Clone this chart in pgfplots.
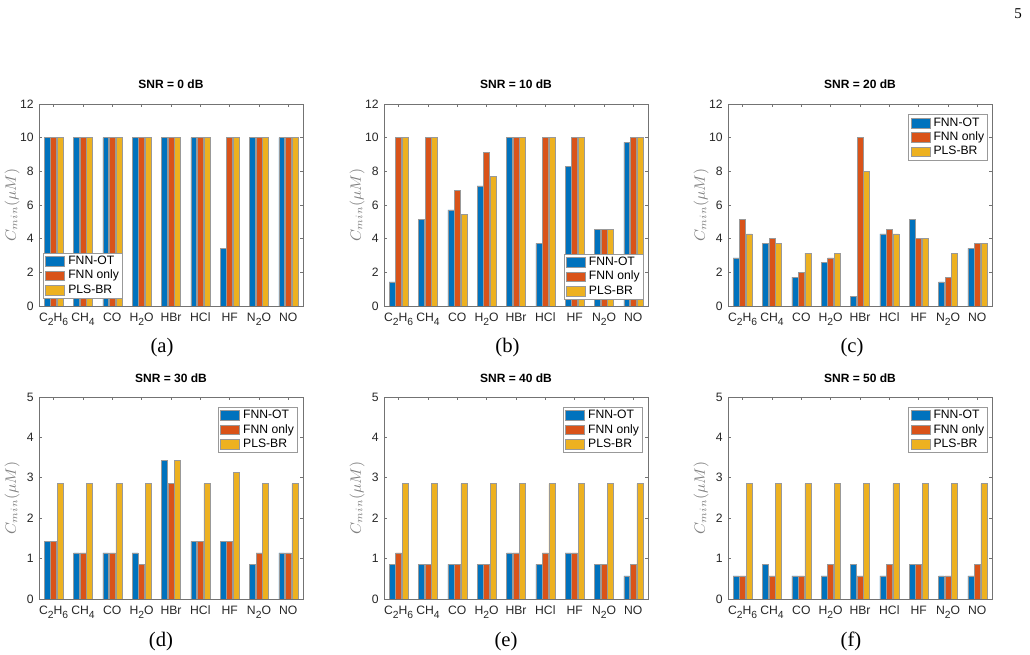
\documentclass[border=0pt]{standalone}
\usepackage{pgfplots}
\pgfplotsset{compat=1.18}
\usepackage{pgfplotstable}
\usepackage{fontspec}
\setmainfont{Liberation Serif}
\newfontfamily\helv{Liberation Sans}

\definecolor{cOT}{RGB}{0,114,189}
\definecolor{cOnly}{RGB}{217,83,25}
\definecolor{cPLS}{RGB}{237,177,32}

% lowered subscript for the gas formulas in the tick labels
\newcommand\sbs[1]{\raisebox{-2pt}{\fontsize{6.2}{6.2}\selectfont #1}}

% columns: gas index, FNN-OT, FNN only, PLS-BR  (C_min in micro-molar)
\pgfplotstableread{
x ot only pls
1 10    10    10
2 10    10    10
3 10    10    10
4 10    10    10
5 10    10    10
6 10    10    10
7 3.429 10    10
8 10    10    10
9 10    10    10
}\snrA
\pgfplotstableread{
x ot only pls
1 1.429 10    10
2 5.143 10    10
3 5.714 6.857 5.429
4 7.143 9.143 7.714
5 10    10    10
6 3.714 10    10
7 8.286 10    10
8 4.571 4.571 4.571
9 9.714 10    10
}\snrB
\pgfplotstableread{
x ot only pls
1 2.857 5.143 4.286
2 3.714 4.000 3.714
3 1.714 2.000 3.143
4 2.571 2.857 3.143
5 0.571 10    8.000
6 4.286 4.571 4.286
7 5.143 4.000 4.000
8 1.429 1.714 3.143
9 3.429 3.714 3.714
}\snrC
\pgfplotstableread{
x ot only pls
1 1.429 1.429 2.857
2 1.143 1.143 2.857
3 1.143 1.143 2.857
4 1.143 0.857 2.857
5 3.429 2.857 3.429
6 1.429 1.429 2.857
7 1.429 1.429 3.143
8 0.857 1.143 2.857
9 1.143 1.143 2.857
}\snrD
\pgfplotstableread{
x ot only pls
1 0.857 1.143 2.857
2 0.857 0.857 2.857
3 0.857 0.857 2.857
4 0.857 0.857 2.857
5 1.143 1.143 2.857
6 0.857 1.143 2.857
7 1.143 1.143 2.857
8 0.857 0.857 2.857
9 0.571 0.857 2.857
}\snrE
\pgfplotstableread{
x ot only pls
1 0.571 0.571 2.857
2 0.857 0.571 2.857
3 0.571 0.571 2.857
4 0.571 0.857 2.857
5 0.857 0.571 2.857
6 0.571 0.857 2.857
7 0.857 0.857 2.857
8 0.571 0.571 2.857
9 0.571 0.857 2.857
}\snrF

\pgfplotsset{
  gasbar/.style={ybar, bar width=0.2, draw=black!40, line width=0.3pt},
  fnnot/.style={gasbar, bar shift=-0.2222, fill=cOT},
  fnnonly/.style={gasbar, bar shift=0, fill=cOnly},
  plsbr/.style={gasbar, bar shift=0.2222, fill=cPLS},
  panel/.style={
    scale only axis, width=158.4pt, height=121.2pt,
    xmin=0.5, xmax=9.5, ymin=0,
    xtick={1,...,9},
    xticklabels={C\sbs{2}H\sbs{6}, CH\sbs{4}, CO, H\sbs{2}O, HBr, HCl, HF, N\sbs{2}O, NO},
    tick align=inside, tick pos=both, major tick length=1.6pt,
    axis line style={black!55, line width=0.5pt},
    tick style={black!55, line width=0.5pt},
    /pgf/number format/assume math mode=true,
    tick label style={font=\helv\fontsize{7.3}{8}\selectfont, text=black!85},
    yticklabel style={anchor=east, inner sep=0pt, xshift=-3pt},
    xticklabel style={anchor=base, inner sep=0pt, yshift=-9.6pt},
    title style={font=\helv\bfseries\fontsize{7.2}{8}\selectfont, at={(axis description cs:0.5,1)}, anchor=base, yshift=3pt, inner sep=0pt},
    every axis y label/.style={at={(axis description cs:-0.102,0.5)}, rotate=90, anchor=center, font=\fontsize{8.8}{10}\selectfont, text=black!50},
    ylabel={$C_{min}(\mu M)$},
    legend cell align=left,
    legend image code/.code={\draw[##1] (0pt,-2.9pt) rectangle (11.4pt,2.9pt);},
    legend style={draw=black!40, fill=white, line width=0.4pt, font=\helv\fontsize{7.3}{8}\selectfont, inner xsep=1.2pt, inner ysep=0.8pt, row sep=0pt, column sep=1.2pt, nodes={inner sep=0.9pt, text height=5.3pt, text depth=1.5pt}},
  },
  toprow/.style={panel, ymax=12, ytick={0,2,...,12}},
  botrow/.style={panel, ymax=5, ytick={0,1,...,5}},
}

\begin{document}
\begin{tikzpicture}
\path[use as bounding box] (0pt,0pt) rectangle (618pt,393pt);

% (a)
\begin{axis}[toprow, at={(23.4pt,209.4pt)}, anchor=south west, title={SNR = 0 dB},
  legend style={at={(axis description cs:0.015,0.035)}, anchor=south west}]
\addplot[fnnot] table[x=x,y=ot]{\snrA};
\addplot[fnnonly] table[x=x,y=only]{\snrA};
\addplot[plsbr] table[x=x,y=pls]{\snrA};
\legend{FNN-OT, FNN only, PLS-BR}
\end{axis}

% (b)
\begin{axis}[toprow, at={(230.4pt,209.4pt)}, anchor=south west, title={SNR = 10 dB},
  legend style={at={(axis description cs:0.983,0.03)}, anchor=south east}]
\addplot[fnnot] table[x=x,y=ot]{\snrB};
\addplot[fnnonly] table[x=x,y=only]{\snrB};
\addplot[plsbr] table[x=x,y=pls]{\snrB};
\legend{FNN-OT, FNN only, PLS-BR}
\end{axis}

% (c)
\begin{axis}[toprow, at={(436.8pt,209.4pt)}, anchor=south west, title={SNR = 20 dB},
  legend style={at={(axis description cs:0.985,0.95)}, anchor=north east}]
\addplot[fnnot] table[x=x,y=ot]{\snrC};
\addplot[fnnonly] table[x=x,y=only]{\snrC};
\addplot[plsbr] table[x=x,y=pls]{\snrC};
\legend{FNN-OT, FNN only, PLS-BR}
\end{axis}

% (d)
\begin{axis}[botrow, at={(23.4pt,33.6pt)}, anchor=south west, title={SNR = 30 dB},
  legend style={at={(axis description cs:0.98,0.952)}, anchor=north east}]
\addplot[fnnot] table[x=x,y=ot]{\snrD};
\addplot[fnnonly] table[x=x,y=only]{\snrD};
\addplot[plsbr] table[x=x,y=pls]{\snrD};
\legend{FNN-OT, FNN only, PLS-BR}
\end{axis}

% (e)
\begin{axis}[botrow, at={(230.4pt,33.6pt)}, anchor=south west, title={SNR = 40 dB},
  legend style={at={(axis description cs:0.98,0.952)}, anchor=north east}]
\addplot[fnnot] table[x=x,y=ot]{\snrE};
\addplot[fnnonly] table[x=x,y=only]{\snrE};
\addplot[plsbr] table[x=x,y=pls]{\snrE};
\legend{FNN-OT, FNN only, PLS-BR}
\end{axis}

% (f)
\begin{axis}[botrow, at={(436.8pt,33.6pt)}, anchor=south west, title={SNR = 50 dB},
  legend style={at={(axis description cs:0.985,0.952)}, anchor=north east}]
\addplot[fnnot] table[x=x,y=ot]{\snrF};
\addplot[fnnonly] table[x=x,y=only]{\snrF};
\addplot[plsbr] table[x=x,y=pls]{\snrF};
\legend{FNN-OT, FNN only, PLS-BR}
\end{axis}

% sub-figure captions and page number
\node[font=\fontsize{12.4}{14}\selectfont] at (97.2pt,184.2pt) {(a)};
\node[font=\fontsize{12.4}{14}\selectfont] at (304.5pt,184.2pt) {(b)};
\node[font=\fontsize{12.4}{14}\selectfont] at (511.2pt,184.2pt) {(c)};
\node[font=\fontsize{12.4}{14}\selectfont] at (96.6pt,8pt) {(d)};
\node[font=\fontsize{12.4}{14}\selectfont] at (303.6pt,8pt) {(e)};
\node[font=\fontsize{12.4}{14}\selectfont] at (510.6pt,8pt) {(f)};
\node[font=\fontsize{9}{10}\selectfont] at (610.8pt,384.6pt) {5};
\end{tikzpicture}
\end{document}
